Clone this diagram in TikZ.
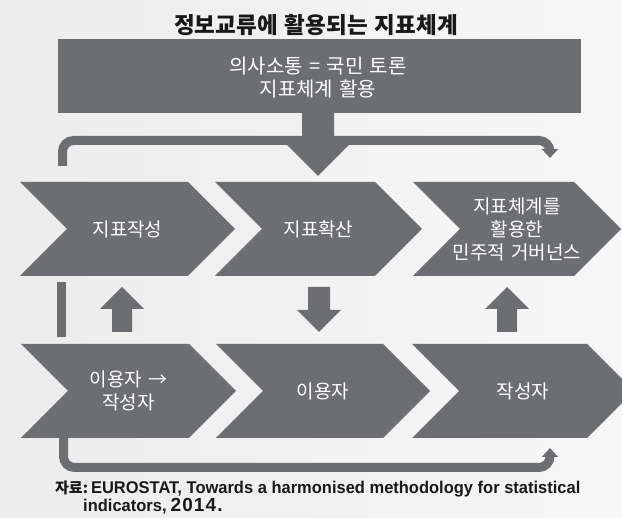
\documentclass[tikz,border=0pt]{standalone}
\usepackage{fontspec}
\usepackage{graphicx}
\newfontfamily\kr[WordSpace=1.4]{Noto Sans CJK KR}
\newfontfamily\latc[FakeStretch=0.97]{Liberation Sans}
\newfontfamily\lat[LetterSpace=6]{Liberation Sans}
\usetikzlibrary{arrows.meta}

\definecolor{dk}{RGB}{109,110,114}
\definecolor{bgL}{RGB}{236,236,237}
\definecolor{bgR}{RGB}{247,247,247}
\definecolor{ink}{RGB}{25,25,25}

\tikzset{
  panel/.style={fill=dk},
  lbl/.style={text=white, font=\kr\fontsize{19}{23}\selectfont, align=center, inner sep=0pt},
  loopline/.style={draw=dk, line width=9pt, rounded corners=11pt,
    -{Triangle[width=16pt,length=9pt]}},
}

% chevron panel: name, left x, tip x, top y, label
\newcommand\chevron[5]{%
  \fill[panel] (#2,#4) -- ({#3-47},#4) -- (#3,{#4+47}) -- ({#3-47},{#4+94})
    -- (#2,{#4+94}) -- ({#2+47},{#4+47}) -- cycle;
  \node[lbl] (#1) at ({(#2+#3)/2},{#4+47}) {#5};
}

% block arrow: centre x, start y, tip y, shaft half-width, head half-width, head length (signed)
\newcommand\blockarrow[6]{%
  \fill[panel] ({#1-#4},#2) -- ({#1-#4},{#3-(#6)}) -- ({#1-#5},{#3-(#6)}) -- (#1,#3)
    -- ({#1+#5},{#3-(#6)}) -- ({#1+#4},{#3-(#6)}) -- ({#1+#4},#2) -- cycle;
}

\begin{document}
\begin{tikzpicture}[x=1pt,y=-1pt]
  \clip (0,0) rectangle (622,518);
  \fill[left color=bgL, right color=bgR] (0,0) rectangle (622,518);

  % heading
  \node[text=ink, font=\kr\bfseries\fontsize{22.5}{26}\selectfont] (title) at (316,25)
    {정보교류에 활용되는 지표체계};

  % communication box
  \node[panel, minimum width=523pt, minimum height=74pt, inner sep=0pt] (hub) at (319.5,76) {};
  \node[lbl, font=\kr\fontsize{20}{23}\selectfont] (hubtxt) at (318,78) {의사소통 = 국민 토론\\지표체계 활용};

  % main arrow into the process rows
  \blockarrow{318}{113}{176}{16}{33}{33}

  % upper row
  \chevron{c1}{20}{235}{182}{지표작성}
  \chevron{c2}{215}{422}{182}{지표확산}
  \chevron{c3}{413}{621}{182}{지표체계를\\활용한\\민주적 거버넌스}

  % lower row
  \chevron{d1}{21}{236}{344}{이용자 →\\작성자}
  \chevron{d2}{216}{430}{344}{이용자}
  \chevron{d3}{412}{634}{344}{작성자}

  % arrows between rows
  \blockarrow{122}{332}{287}{10}{22}{-22}
  \blockarrow{319}{287}{332}{11}{22}{22}
  \blockarrow{507}{332}{287}{10}{22}{-22}
  \fill[panel] (57,282) rectangle (66,337);

  % feedback loops
  \coordinate (topL) at (62.5,166);
  \coordinate (topR) at (550,158);
  \draw[loopline] (topL) -- (62.5,140.5) -- (550,140.5) -- (topR);
  \coordinate (botL) at (63.5,438);
  \coordinate (botR) at (550,448);
  \draw[loopline] (botL) -- (63.5,467.5) -- (550,467.5) -- (botR);

  % source
  \node[anchor=base west, inner sep=0pt, text=ink] (src1) at (55,494)
    {{\kr\bfseries\fontsize{15}{17}\selectfont 자료:}\hspace{3pt}{\latc\bfseries\fontsize{17}{20}\selectfont EUROSTAT, Towards a harmonised methodology for statistical}};
  \node[anchor=base west, inner sep=0pt, text=ink] (src2) at (83,512)
    {{\latc\bfseries\fontsize{17}{20}\selectfont indicators,}\hspace{4pt}{\lat\bfseries\fontsize{19}{20}\selectfont 2014.}};
\end{tikzpicture}
\end{document}
